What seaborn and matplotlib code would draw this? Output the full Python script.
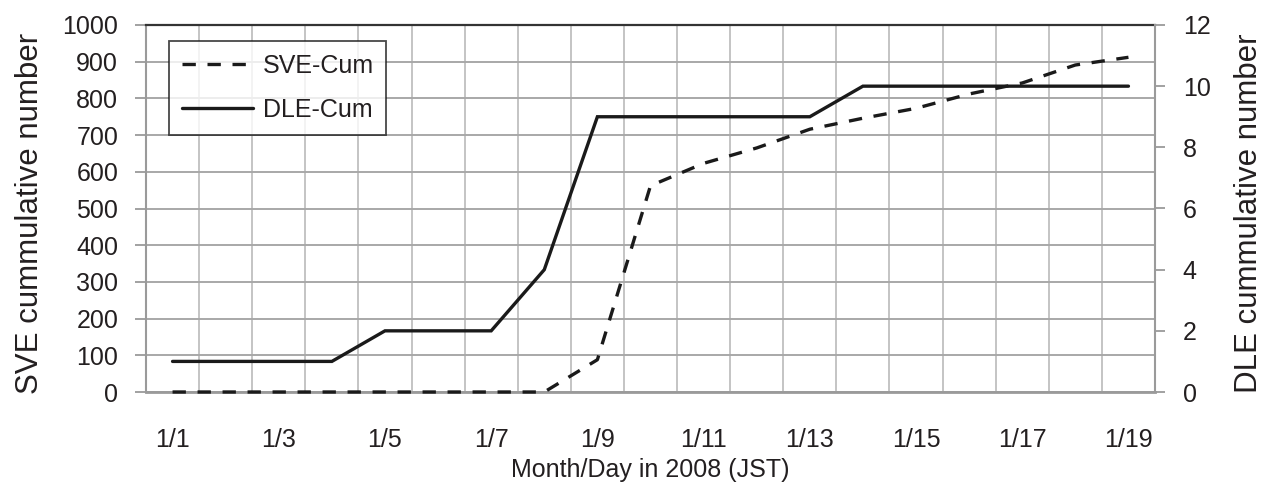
import numpy as np
import pandas as pd
import matplotlib
matplotlib.use("Agg")
import matplotlib.pyplot as plt
import seaborn as sns

# ---- data ----
dates = ["1/1", "1/2", "1/3", "1/4", "1/5", "1/6", "1/7", "1/8", "1/9", "1/10",
         "1/11", "1/12", "1/13", "1/14", "1/15", "1/16", "1/17", "1/18", "1/19"]
sve_cum = [0, 0, 0, 0, 0, 0, 0, 0, 88, 562, 623, 665, 716, 746, 773, 812, 842, 891, 912]
dle_cum = [1, 1, 1, 1, 2, 2, 2, 4, 9, 9, 9, 9, 9, 10, 10, 10, 10, 10, 10]
label_dates = dates[::2]

sns.set_theme(style="white")
plt.rcParams["font.family"] = ["Liberation Sans", "DejaVu Sans"]

TXT = "#231f20"
GRID_H = "#a8a8a8"
GRID_V = "#c4c4c4"
SPINE = "#9a9a9a"
FS = 18

df = pd.DataFrame({"date": dates, "pos": np.arange(len(dates)),
                   "SVE": sve_cum, "DLE": dle_cum})

W, H = 1268, 488
fig = plt.figure(figsize=(W / 100, H / 100), dpi=100)
L, R, T, B = 146, 1155, 25, 392
ax = fig.add_axes([L / W, (H - B) / H, (R - L) / W, (B - T) / H])
ax2 = ax.twinx()

lw = 2.4
sns.lineplot(data=df, x="pos", y="SVE", ax=ax, color="#1a1a1a", linewidth=lw,
             dashes=False, legend=False, zorder=3)
l_sve = ax.lines[-1]
l_sve.set_dashes((4, 3.5))
l_sve.set_clip_on(False)
sns.lineplot(data=df, x="pos", y="DLE", ax=ax2, color="#1a1a1a", linewidth=lw,
             legend=False, zorder=3)
l_dle = ax2.lines[-1]
l_dle.set_solid_joinstyle("miter")

n = len(dates)
ax.set_xlim(-0.5, n - 0.5)
ax.set_ylim(0, 1000)
ax2.set_ylim(0, 12)

# x grid at every category boundary; tick marks every 2 boundaries
ax.set_xticks(np.arange(-0.5, n - 1, 2))
ax.set_xticks(np.arange(-0.5, n, 1), minor=True)
ax.tick_params(axis="x", which="major", length=7, width=1.3, color=SPINE,
               labelbottom=False, direction="out")
ax.tick_params(axis="x", which="minor", length=0)
ax.grid(axis="x", which="both", color=GRID_V, linewidth=1.4)
ax.grid(axis="y", which="major", color=GRID_H, linewidth=1.4)

sec = ax.secondary_xaxis("bottom")
sec.set_xticks(np.arange(0, n, 2), labels=label_dates)
sec.tick_params(length=0, pad=26, labelsize=FS, labelcolor=TXT)
for s in sec.spines.values():
    s.set_visible(False)

ax.set_yticks(np.arange(0, 1001, 100))
ax.tick_params(axis="y", length=8, width=1.3, color=SPINE, pad=12,
               labelsize=FS, labelcolor=TXT, direction="out")
ax2.set_yticks(np.arange(0, 13, 2))
ax2.tick_params(axis="y", length=7, width=1.3, color=SPINE, pad=13,
                labelsize=FS, labelcolor=TXT, direction="out")
ax2.grid(False)

ax.set_xlabel("")
sec.set_xlabel("Month/Day in 2008 (JST)", fontsize=FS, color=TXT, labelpad=4)
ax.set_ylabel("SVE cummulative number", fontsize=22.5, color=TXT)
ax2.set_ylabel("DLE cummulative number", fontsize=22.5, color=TXT)
ax.yaxis.set_label_coords(-0.1, 0.487)
ax2.yaxis.set_label_coords(1.078, 0.487)

for side in ("left", "right", "bottom"):
    ax.spines[side].set_color(SPINE)
    ax.spines[side].set_linewidth(1.5)
ax.spines["bottom"].set_linewidth(2)
ax.spines["top"].set_color("#333333")
ax.spines["top"].set_linewidth(1.6)
# twin axes: keep only its right spine so it does not cover the data lines
for side in ("left", "top", "bottom"):
    ax2.spines[side].set_visible(False)
ax2.spines["right"].set_color(SPINE)
ax2.spines["right"].set_linewidth(1.5)
ax.spines["right"].set_visible(False)

leg = ax2.legend([l_sve, l_dle], ["SVE-Cum", "DLE-Cum"], loc="upper left",
                 bbox_to_anchor=(0.0228, 0.956), borderaxespad=0,
                 frameon=True, fancybox=False, edgecolor="#1a1a1a",
                 fontsize=FS, handlelength=2.85, handletextpad=0.4,
                 labelspacing=0.82, borderpad=0.5)
leg.get_frame().set_linewidth(1.3)
for t in leg.get_texts():
    t.set_color(TXT)

fig.savefig("out.png", dpi=100, facecolor="white")
